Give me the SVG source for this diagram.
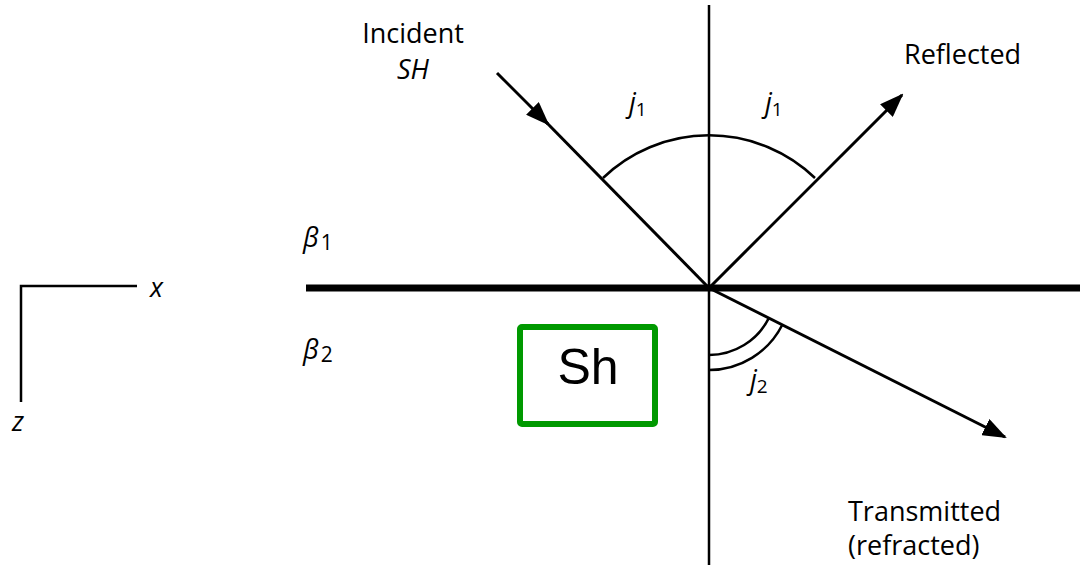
<svg xmlns="http://www.w3.org/2000/svg" width="1080" height="565" viewBox="0 0 1080 565">
<style>
.t{font-family:"Open Sans","Noto Sans","DejaVu Sans",sans-serif;font-size:27px;fill:#000}
.i{font-style:italic}
.ln{stroke:#000;stroke-width:2.5;fill:none}
.ray{stroke:#000;stroke-width:3;fill:none}
</style>
<defs>
<marker id="ah" viewBox="0 0 24 18" refX="22" refY="9" markerWidth="24" markerHeight="18" markerUnits="userSpaceOnUse" orient="auto">
<path d="M0,0 L24,9 L0,18 Z" fill="#000"/>
</marker>
</defs>
<rect width="1080" height="565" fill="#fff"/>
<g id="axes">
<path class="ln" d="M137,286 H21 V402"/>
<text class="t i" x="150" y="297">x</text>
<text class="t i" x="12" y="431">z</text>
</g>
<g id="normal"><line class="ln" x1="709" y1="5" x2="709" y2="565"/></g>
<g id="interface"><line x1="306" y1="288" x2="1080" y2="288" stroke="#000" stroke-width="7"/></g>
<g id="connectors">
<line class="ray" x1="497" y1="73" x2="548" y2="124" marker-end="url(#ah)"/>
<line class="ray" x1="546" y1="122" x2="709" y2="288"/>
<line class="ray" x1="709" y1="288" x2="902" y2="95" marker-end="url(#ah)"/>
<line class="ray" x1="709" y1="288" x2="1005" y2="437" marker-end="url(#ah)"/>
</g>
<g id="angles">
<path class="ln" d="M603,178 A153,153 0 0 1 815,178"/>
<path class="ln" d="M709,355 A67,67 0 0 0 768.8,318.1"/>
<path class="ln" d="M709,370 A82,82 0 0 0 782.2,325"/>
<text class="t i" x="629" y="112">j<tspan font-size="19" font-style="normal" dy="4">1</tspan></text>
<text class="t i" x="765" y="112">j<tspan font-size="19" font-style="normal" dy="4">1</tspan></text>
<text class="t i" x="750" y="389">j<tspan font-size="19" font-style="normal" dy="4">2</tspan></text>
</g>
<g id="media">
<text class="t i" x="303" y="247" font-size="31">β<tspan font-size="21" font-style="normal" dy="3" dx="2">1</tspan></text>
<text class="t i" x="303" y="359" font-size="31">β<tspan font-size="21" font-style="normal" dy="3" dx="2">2</tspan></text>
</g>
<g id="labels">
<text class="t" x="413" y="43" text-anchor="middle">Incident</text>
<text class="t i" x="413" y="79" text-anchor="middle">SH</text>
<text class="t" x="904" y="64">Reflected</text>
<text class="t" x="848" y="521">Transmitted</text>
<text class="t" x="848" y="555">(refracted)</text>
</g>
<g id="sh-box">
<rect x="520" y="327" width="135" height="97" rx="2" fill="#fff" stroke="#009900" stroke-width="6"/>
<text x="588" y="384" text-anchor="middle" font-family="Liberation Sans, Arial, sans-serif" font-size="50">Sh</text>
</g>
</svg>
